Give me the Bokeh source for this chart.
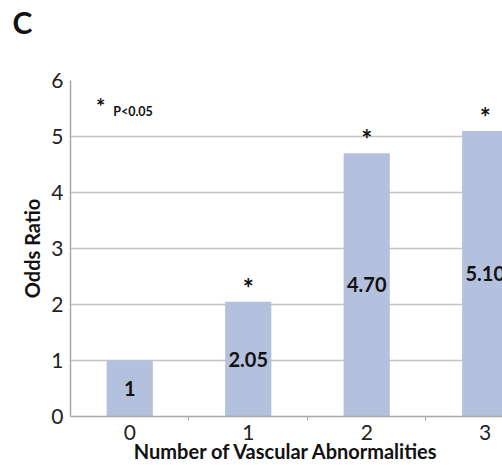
from bokeh.plotting import figure
from bokeh.models import Range1d, FixedTicker, ColumnDataSource, Title
from bokeh.embed import file_html
from bokeh.resources import INLINE
from bokeh.core.properties import value

# ---- data ----
categories = [0, 1, 2, 3]
odds_ratios = [1.0, 2.05, 4.70, 5.10]
value_labels = ["1", "2.05", "4.70", "5.10"]
sig_categories = [1, 2, 3]
sig_tops = [2.05, 4.70, 5.10]
y_ticks = [0, 1, 2, 3, 4, 5, 6]
x_tick_labels = {0: "0", 1: "1", 2: "2", 3: "3"}

FONT = "Lato"
BAR = "#b4c1de"
GRID = "#c4c4c4"
AXIS = "#a8a8a8"

p = figure(width=502, height=465,
           x_range=Range1d(-0.5, 3.146), y_range=Range1d(0, 6),
           output_backend="svg", toolbar_location=None,
           min_border_left=70, min_border_right=0,
           min_border_top=80, min_border_bottom=46)
p.outline_line_color = None
p.background_fill_color = "white"
p.border_fill_color = "white"

# panel letter as title (second blank line reserves vertical room so the letter sits high)
p.title = Title(text="C\n\u00a0", align="left", offset=-58, standoff=5,
                vertical_align="top",
                text_font=FONT, text_font_style="bold", text_font_size="30px",
                text_color="#111111")

src = ColumnDataSource(dict(x=categories, top=odds_ratios,
                            mid=[v / 2 for v in odds_ratios], lab=value_labels))
p.vbar(x="x", top="top", width=0.39, source=src, fill_color=BAR, line_color=None)

p.text(x="x", y="mid", text="lab", source=src, text_align="center",
       text_baseline="middle", text_font=value(FONT), text_font_style="bold",
       text_font_size="20px", text_color="#111111")

sig_src = ColumnDataSource(dict(x=sig_categories, y=sig_tops,
                                t=["*"] * len(sig_categories)))
p.text(x="x", y="y", text="t", source=sig_src, text_align="center",
       text_baseline="middle", y_offset=-14, text_font=value(FONT),
       text_font_style="bold", text_font_size="26px", text_color="#111111")

# significance note
p.text(x=[-0.245], y=[5.53], text=["*"], text_align="center", text_baseline="middle",
       text_font=value(FONT), text_font_style="bold", text_font_size="22px",
       text_color="#111111")
p.text(x=[-0.14], y=[5.45], text=["P<0.05"], text_align="left", text_baseline="middle",
       text_font=value(FONT), text_font_style="bold", text_font_size="12.5px",
       text_color="#111111")

# grid
p.xgrid.visible = False
p.ygrid.grid_line_color = GRID
p.ygrid.grid_line_width = 1.5
p.ygrid.ticker = FixedTicker(ticks=y_ticks)

# y axis
p.yaxis.ticker = FixedTicker(ticks=y_ticks)
p.yaxis.axis_label = "Odds Ratio"
p.yaxis.axis_label_text_font = FONT
p.yaxis.axis_label_text_font_style = "bold"
p.yaxis.axis_label_text_font_size = "20px"
p.yaxis.axis_label_text_color = "#111111"
p.yaxis.axis_label_standoff = 4
p.yaxis.major_label_text_font = FONT
p.yaxis.major_label_text_font_size = "21px"
p.yaxis.major_label_text_color = "#222222"
p.yaxis.major_label_standoff = 7
p.yaxis.major_tick_out = 0
p.yaxis.major_tick_in = 0
p.yaxis.minor_tick_out = 0
p.yaxis.minor_tick_in = 0
p.yaxis.axis_line_color = AXIS
p.yaxis.axis_line_width = 1.5

# x axis
p.xaxis.ticker = FixedTicker(ticks=categories, minor_ticks=[0.5, 1.5, 2.5])
p.xaxis.major_label_overrides = x_tick_labels
p.xaxis.axis_label = "Number of Vascular Abnormalities"
p.xaxis.axis_label_text_font = FONT
p.xaxis.axis_label_text_font_style = "bold"
p.xaxis.axis_label_text_font_size = "20px"
p.xaxis.axis_label_text_color = "#111111"
p.xaxis.axis_label_standoff = -4
p.xaxis.major_label_text_font = FONT
p.xaxis.major_label_text_font_size = "21px"
p.xaxis.major_label_text_color = "#222222"
p.xaxis.major_label_standoff = 4
p.xaxis.major_tick_out = 0
p.xaxis.major_tick_in = 0
p.xaxis.minor_tick_out = 4
p.xaxis.minor_tick_in = 0
p.xaxis.minor_tick_line_color = AXIS
p.xaxis.axis_line_color = AXIS
p.xaxis.axis_line_width = 1.5

open("out.html", "w").write(file_html(p, INLINE))
